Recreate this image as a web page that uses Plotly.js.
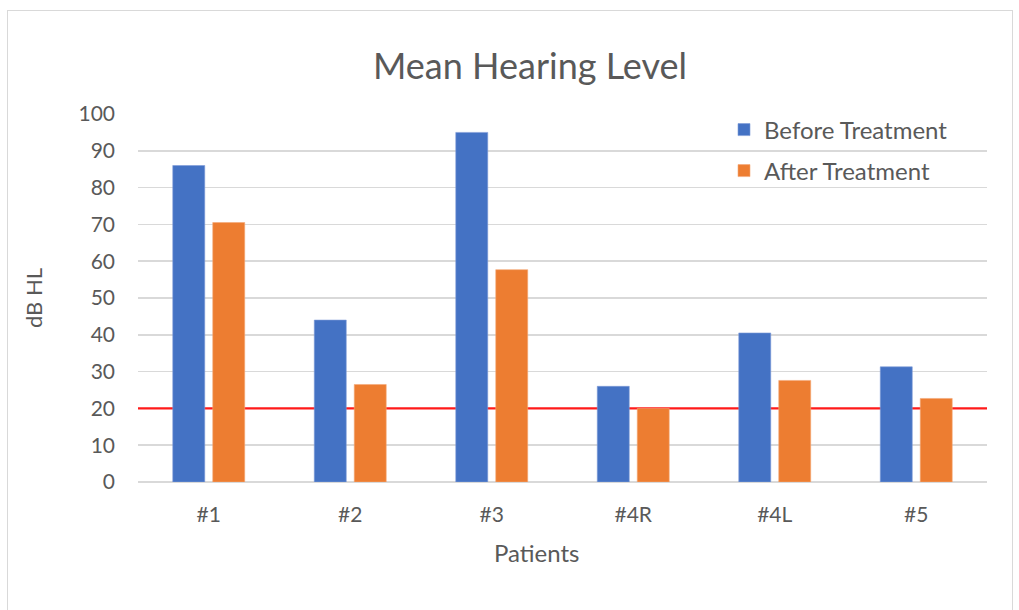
<!DOCTYPE html>
<html>
<head>
<meta charset="utf-8">
<script src="https://cdn.plot.ly/plotly-3.0.1.min.js"></script>
<style>
  html, body { margin: 0; padding: 0; background: #fff; overflow: hidden; }
  #frame { position: absolute; left: 7px; top: 10px; width: 1006px; height: 620px;
           border: 1.5px solid #d9d9d9; box-sizing: border-box; }
  #chart { position: absolute; left: 0; top: 0; width: 1019px; height: 610px; }
</style>
</head>
<body>
<div id="frame"></div>
<div id="chart"></div>
<script>
// Mean hearing level per patient, before and after treatment (dB HL)
const patients = ['#1', '#2', '#3', '#4R', '#4L', '#5'];
const beforeTreatment = [86, 44, 95, 26, 40.5, 31.3];
const afterTreatment = [70.5, 26.5, 57.7, 20, 27.6, 22.7];
const normalThreshold = 20;
const yTicks = [0, 10, 20, 30, 40, 50, 60, 70, 80, 90, 100];

const FONT = 'Lato, "Open Sans", sans-serif';
const GREY = '#595959';

const traces = [
  // threshold line across the whole plot width, drawn on the base axes (below the bars)
  {
    type: 'scatter', mode: 'lines', x: [0, 1], y: [normalThreshold, normalThreshold],
    xaxis: 'x', yaxis: 'y', line: { color: '#ff1a1a', width: 2.2 },
    hoverinfo: 'skip', showlegend: false
  },
  {
    type: 'bar', name: 'Before Treatment', x: patients, y: beforeTreatment,
    xaxis: 'x2', yaxis: 'y2',
    marker: { color: '#4472C4', line: { color: '#7d9bd6', width: 0.6 } },
    legend: 'legend'
  },
  {
    type: 'bar', name: 'After Treatment', x: patients, y: afterTreatment,
    xaxis: 'x2', yaxis: 'y2',
    marker: { color: '#ED7D31', line: { color: '#f3a877', width: 0.6 } },
    legend: 'legend2'
  }
];

const legendStyle = {
  xanchor: 'left', yanchor: 'middle',
  bgcolor: 'rgba(0,0,0,0)', font: { family: FONT, size: 24, color: GREY },
  itemwidth: 30
};

const layout = {
  width: 1019, height: 610,
  margin: { l: 138, r: 32, t: 114, b: 128 },
  paper_bgcolor: 'rgba(0,0,0,0)',
  plot_bgcolor: 'rgba(0,0,0,0)',
  font: { family: FONT, color: GREY, size: 21 },
  barmode: 'group',
  bargap: 0.435,
  bargroupgap: 0.2,
  title: {
    text: 'Mean Hearing Level',
    font: { family: FONT, size: 36, color: GREY },
    x: 530 / 1019, xref: 'container', xanchor: 'center',
    y: 1 - 66 / 610, yref: 'container', yanchor: 'middle'
  },
  xaxis: {
    range: [0, 1], visible: false, fixedrange: true
  },
  yaxis: {
    range: [0, 100], tickvals: yTicks,
    showgrid: true, gridcolor: '#d9d9d9', gridwidth: 1.5,
    zeroline: true, zerolinecolor: '#d9d9d9', zerolinewidth: 1.5,
    showline: false, ticks: '', ticklabelstandoff: 22,
    tickfont: { family: FONT, size: 21, color: GREY },
    title: { text: 'dB HL', font: { family: FONT, size: 22, color: GREY }, standoff: 29 }
  },
  xaxis2: {
    type: 'category', overlaying: 'x', side: 'bottom', anchor: 'y2',
    showgrid: false, zeroline: false, showline: false,
    ticks: '', ticklabelstandoff: 18,
    tickfont: { family: FONT, size: 21, color: GREY }
  },
  yaxis2: {
    range: [0, 100], overlaying: 'y', anchor: 'x2', side: 'left',
    showgrid: false, zeroline: false, showticklabels: false, ticks: ''
  },
  annotations: [{
    text: 'Patients', showarrow: false,
    xref: 'paper', x: (536 - 138) / 849, xanchor: 'center',
    yref: 'paper', y: -(552 - 482) / 368, yanchor: 'middle',
    font: { family: FONT, size: 24, color: GREY }
  }],
  legend: Object.assign({ x: (724 - 138) / 849, y: 1 - (130 - 114) / 368 }, legendStyle),
  legend2: Object.assign({ x: (724 - 138) / 849, y: 1 - (171 - 114) / 368 }, legendStyle),
  showlegend: true
};

Plotly.newPlot('chart', traces, layout, { displayModeBar: false, staticPlot: true });
</script>
</body>
</html>
